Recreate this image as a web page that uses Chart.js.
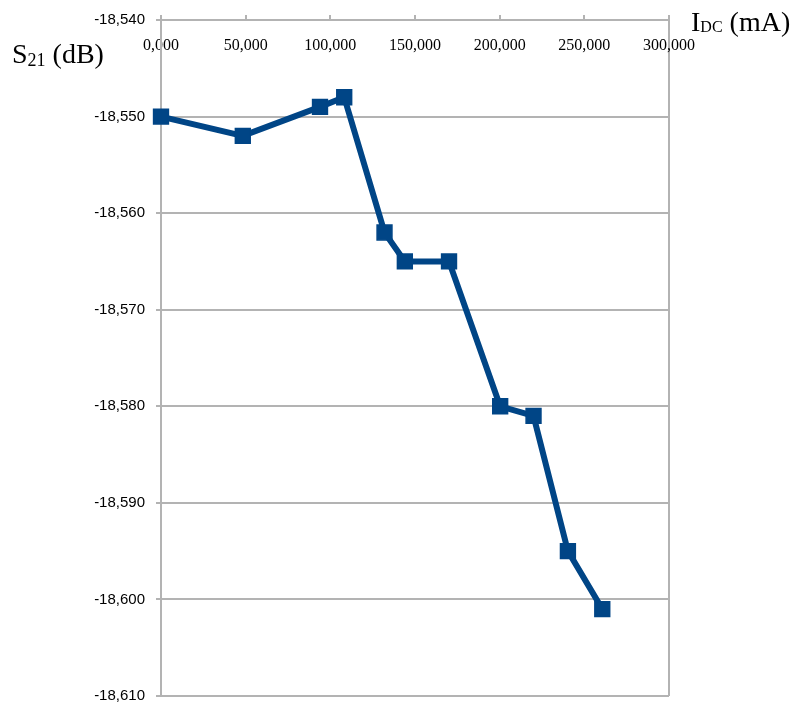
<!DOCTYPE html>
<html><head><meta charset="utf-8">
<script src="https://cdn.jsdelivr.net/npm/chart.js@4"></script>
<style>
html,body{margin:0;padding:0;background:#fff;}
#wrap{position:relative;width:794px;height:716px;overflow:hidden;}
canvas{position:absolute;left:0;top:0;}
.t{position:absolute;font-family:"Liberation Serif",serif;font-size:28px;line-height:28px;color:#000;white-space:nowrap;}
</style></head><body>
<div id="wrap"><canvas id="c" width="794" height="716"></canvas>
<div class="t" style="left:12px;top:40px;">S<span style="font-size:18px;position:relative;top:3px;">21</span> (dB)</div>
<div class="t" style="left:691px;top:8px;">I<span style="font-size:16px;position:relative;top:1px;">DC</span> (mA)</div>
</div>
<script>
// I_DC in mA
const idcValues = [0, 48.3, 93.9, 108.2, 132.0, 144.0, 170.1, 200.3, 220.0, 240.3, 260.6];
// S21 in dB
const s21Values = [-18.550, -18.552, -18.549, -18.548, -18.562, -18.565, -18.565, -18.580, -18.581, -18.595, -18.601];
const xTicks = [0, 50, 100, 150, 200, 250, 300];
const yTicks = [-18.54, -18.55, -18.56, -18.57, -18.58, -18.59, -18.60, -18.61];

const fmt = v => Number(v).toFixed(3).replace('.', ',');
const GRID = '#b3b3b3';

new Chart(document.getElementById('c'), {
  type: 'line',
  data: {
    datasets: [{
      data: idcValues.map((x, i) => ({x: x, y: s21Values[i]})),
      borderColor: '#004586',
      backgroundColor: '#004586',
      borderWidth: 6,
      pointStyle: 'rect',
      pointRadius: 10.5,
      pointBorderWidth: 1.5,
      pointBackgroundColor: '#004586',
      pointBorderColor: '#004586',
      tension: 0,
      clip: false
    }]
  },
  options: {
    responsive: false,
    animation: false,
    devicePixelRatio: 1,
    layout: {padding: {left: 0, top: 0, right: 125, bottom: 10}},
    plugins: {legend: {display: false}, tooltip: {enabled: false}},
    scales: {
      x: {
        type: 'linear',
        position: 'top',
        min: 0, max: 300,
        afterBuildTicks: s => { s.ticks = xTicks.map(v => ({value: v})); },
        afterFit: s => { s.height = 17; },
        grid: {
          color: ctx => (ctx.tick && (ctx.tick.value === 0 || ctx.tick.value === 300)) ? GRID : 'rgba(0,0,0,0)',
          lineWidth: 2,
          tickLength: 5,
          tickColor: GRID,
          tickWidth: 2
        },
        border: {display: true, color: GRID, width: 2},
        ticks: {
          font: {family: 'Liberation Serif', size: 16},
          color: '#000',
          mirror: true,
          padding: 16,
          maxRotation: 0,
          autoSkip: false,
          callback: v => fmt(v)
        }
      },
      y: {
        type: 'linear',
        min: -18.61, max: -18.54,
        afterBuildTicks: s => { s.ticks = yTicks.map(v => ({value: v})); },
        afterFit: s => { s.width = 161; },
        grid: {color: GRID, lineWidth: 2, tickLength: 5, tickColor: GRID, tickWidth: 2},
        border: {display: true, color: GRID, width: 2},
        ticks: {
          font: {family: 'Liberation Sans', size: 15},
          color: '#000',
          padding: 11,
          autoSkip: false,
          callback: v => fmt(v)
        }
      }
    }
  }
});
</script>
</body></html>
